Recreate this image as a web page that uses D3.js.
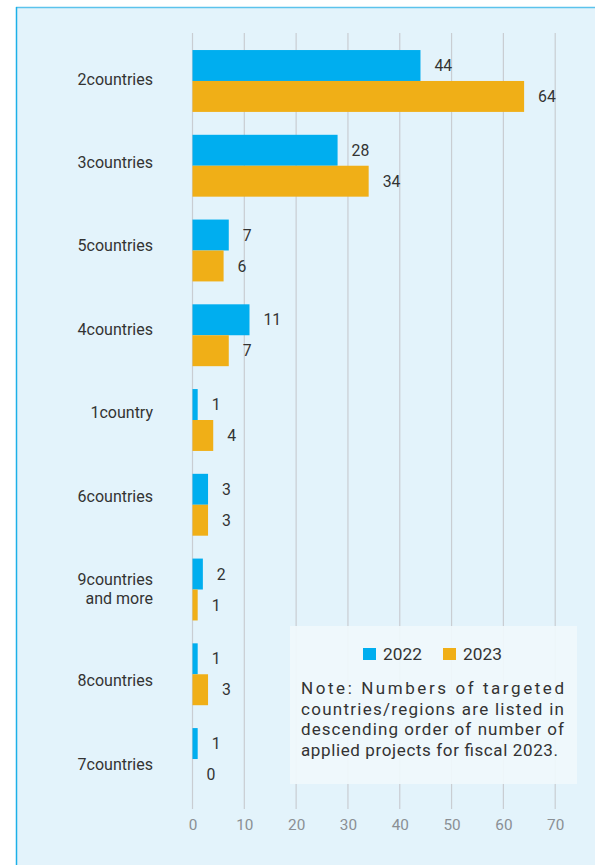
<!DOCTYPE html>
<html>
<head>
<meta charset="utf-8">
<script src="https://cdn.jsdelivr.net/npm/d3@7"></script>
<style>
  html, body { margin: 0; padding: 0; background: #fff; }
  svg { display: block; font-family: Roboto, "Open Sans", sans-serif; }
</style>
</head>
<body>
<div id="chart"></div>
<script>
// chart data
const categories = ['2countries', '3countries', '5countries', '4countries', '1country',
  '6countries', '9countries\nand more', '8countries', '7countries'];
const values2022 = [44, 28, 7, 11, 1, 3, 2, 1, 1];
const values2023 = [64, 34, 6, 7, 4, 3, 1, 3, 0];
const seriesNames = ['2022', '2023'];
const xTicks = [0, 10, 20, 30, 40, 50, 60, 70];
const noteLines = [
  'Note: Numbers of targeted',
  'countries/regions are listed in',
  'descending order of number of',
  'applied projects for fiscal 2023.'
];

const W = 595, H = 865;
const colors = ['#00aeef', '#f0af17'];
const textColor = '#333';

const svg = d3.select('#chart').append('svg').attr('width', W).attr('height', H);

// panel
svg.append('rect').attr('x', 16).attr('y', 7).attr('width', W).attr('height', H)
  .attr('fill', '#e3f3fb');
svg.append('line').attr('x1', 16).attr('x2', W).attr('y1', 7.5).attr('y2', 7.5)
  .attr('stroke', '#5cc3ec').attr('stroke-width', 1.5);
svg.append('line').attr('x1', 16.5).attr('x2', 16.5).attr('y1', 7).attr('y2', H)
  .attr('stroke', '#1cb0e8').attr('stroke-width', 1.5);

const x = d3.scaleLinear().domain([0, 70]).range([192.5, 555.2]);
const y = d3.scaleBand().domain(categories).range([38.6, 801.4])
  .paddingInner(0.27).paddingOuter(0.135);
const ySub = d3.scaleBand().domain(seriesNames).range([0, y.bandwidth()]);

// grid
svg.append('g').selectAll('line').data(xTicks).enter().append('line')
  .attr('x1', d => x(d)).attr('x2', d => x(d))
  .attr('y1', 33).attr('y2', 809)
  .attr('stroke', '#c9cdd2').attr('stroke-width', 1.2);

// x axis labels
const xAxis = svg.append('g').attr('transform', 'translate(0,809)')
  .call(d3.axisBottom(x).tickValues(xTicks).tickSize(0).tickPadding(10));
xAxis.select('.domain').remove();
xAxis.selectAll('text').attr('fill', '#8a8f94').attr('font-size', 15.3)
  .attr('font-family', 'Roboto, "Open Sans", sans-serif');

// legend + note box
const box = svg.append('g');
box.append('rect').attr('x', 290).attr('y', 626).attr('width', 287).attr('height', 158)
  .attr('fill', '#f0f8fc').attr('opacity', 0.92);

const leg = box.selectAll('g.leg').data(seriesNames).enter().append('g')
  .attr('transform', (d, i) => `translate(${363 + i * 80},648)`);
leg.append('rect').attr('width', 13).attr('height', 12).attr('fill', (d, i) => colors[i]);
leg.append('text').attr('x', 20).attr('y', 12).attr('font-size', 17.3)
  .attr('fill', textColor).text(d => d);

const noteWidths = [263, 263, 263, 257];
box.selectAll('text.note').data(noteLines).enter().append('text')
  .attr('class', 'note')
  .attr('x', 301).attr('y', (d, i) => 694 + i * 20.7)
  .attr('font-size', 17).attr('fill', textColor)
  .attr('textLength', (d, i) => noteWidths[i])
  .attr('lengthAdjust', 'spacing')
  .text(d => d);

// bars
const seriesData = [values2022, values2023];
const groups = svg.selectAll('g.cat').data(categories).enter().append('g')
  .attr('class', 'cat')
  .attr('transform', d => `translate(0,${y(d)})`);

const rows = (d, ci) => seriesNames.map((s, si) => ({ s, si, v: seriesData[si][ci] }));

groups.selectAll('rect').data(rows).enter().append('rect')
  .attr('x', x(0))
  .attr('y', d => ySub(d.s))
  .attr('width', d => Math.max(0, x(d.v) - x(0)))
  .attr('height', ySub.bandwidth())
  .attr('fill', d => colors[d.si]);

groups.selectAll('text.val').data(rows).enter().append('text')
  .attr('class', 'val')
  .attr('x', d => x(d.v) + 14)
  .attr('y', d => ySub(d.s) + ySub.bandwidth() / 2 + 5.6)
  .attr('font-size', 15.8).attr('fill', textColor)
  .text(d => d.v);

// category labels flow down like text, extra lines push the rest down
const labelY = d3.scalePoint().domain(categories).range([79, 79 + 83.4 * 8]);
const labFs = 16;
let extra = 0;
categories.forEach(d => {
  const lines = d.split('\n');
  const t = svg.append('text')
    .attr('text-anchor', 'end').attr('font-size', labFs).attr('fill', textColor);
  const c = labelY(d) + extra;
  lines.forEach((l, i) => {
    t.append('tspan').attr('x', 153).attr('y', c + labFs * 0.355 + i * 18.8).text(l);
  });
  extra += (lines.length - 1) * 17.7;
});
</script>
</body>
</html>
